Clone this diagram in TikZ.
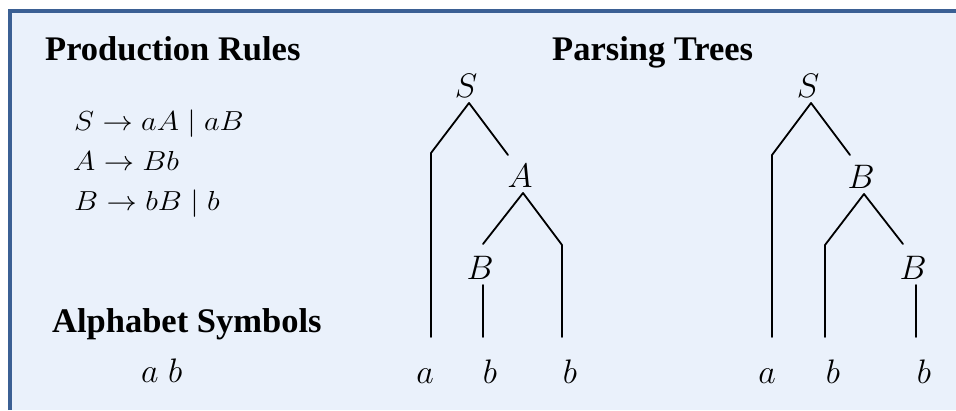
\RequirePackage{fix-cm}
\documentclass[tikz,border=0pt]{standalone}
\usepackage{graphicx}
\usepackage{fontspec}
\setmainfont{Liberation Serif}
\definecolor{bgblue}{HTML}{EAF1FB}
\definecolor{frameblue}{HTML}{3B6094}
\newcommand{\widerule}[1]{\scalebox{1.1}[1]{#1}}
\tikzset{
  title/.style={font=\bfseries\fontsize{34.5}{40}\selectfont, anchor=base west, inner sep=0pt},
  rule/.style={font=\fontsize{27.5}{32}\selectfont, anchor=base west, inner sep=0pt},
  lbl/.style={font=\fontsize{34}{40}\selectfont, inner sep=0pt, outer sep=6pt},
  leaf/.style={font=\fontsize{34}{40}\selectfont, anchor=base, inner sep=0pt},
  edge/.style={line width=1.8pt, line cap=round, line join=round}
}
\begin{document}
\begin{tikzpicture}[x=1pt,y=-1pt]
\useasboundingbox (0,0) rectangle (956,410);
\fill[white] (0,0) rectangle (956,410);
\fill[bgblue] (10,11) rectangle (956,410);
\draw[frameblue, line width=4pt] (10,410) -- (10,11) -- (956,11);
% titles
\node[title] (t1) at (45,60) {Production Rules};
\node[title] (t2) at (552,60) {Parsing Trees};
\node[title] (t3) at (52,332) {Alphabet Symbols};
% rules
\node[rule] (r1) at (74,130) {\widerule{$S \rightarrow aA \mid aB$}};
\node[rule] (r2) at (73,170) {\widerule{$A \rightarrow Bb$}};
\node[rule] (r3) at (74,210) {\widerule{$B \rightarrow bB \mid b$}};
\node[leaf, anchor=base west] (ab) at (141,382) {$a\;b$};
% tree 1
\node[lbl, anchor=south] (S1) at (466,103) {$S$};
\node[lbl, anchor=south] (A1) at (520,193) {$A$};
\node[lbl, anchor=south] (B1) at (480,285) {$B$};
\node[leaf] (a1) at (425,383) {$a$};
\node[leaf] (b1) at (490,383) {$b$};
\node[leaf] (b2) at (570,383) {$b$};
\coordinate (k1) at (431,153);
\coordinate (e1) at (508,155);
\coordinate (k2) at (483,244);
\coordinate (k3) at (562,245);
\coordinate (bot) at (0,337);
\draw[edge] (k1 |- bot) -- (k1) -- ([xshift=3pt]S1.south) -- (e1);
\draw[edge] (k2) -- ([xshift=3pt]A1.south) -- (k3) -- (k3 |- bot);
\draw[edge] ([xshift=3pt]B1.south) -- ([xshift=3pt]B1.south |- bot);
% tree 2
\node[lbl, anchor=south] (S2) at (808,103) {$S$};
\node[lbl, anchor=south] (B2) at (861,194) {$B$};
\node[lbl, anchor=south] (B3) at (913,285) {$B$};
\node[leaf] (a2) at (767,383) {$a$};
\node[leaf] (b3) at (833,383) {$b$};
\node[leaf] (b4) at (924,383) {$b$};
\coordinate (m1) at (772,155);
\coordinate (f1) at (850,155);
\coordinate (m2) at (825,245);
\coordinate (f2) at (903,244);
\draw[edge] (m1 |- bot) -- (m1) -- ([xshift=3pt]S2.south) -- (f1);
\draw[edge] (m2 |- bot) -- (m2) -- ([xshift=3pt]B2.south) -- (f2);
\draw[edge] ([xshift=3pt]B3.south) -- ([xshift=3pt]B3.south |- bot);
\end{tikzpicture}
\end{document}
